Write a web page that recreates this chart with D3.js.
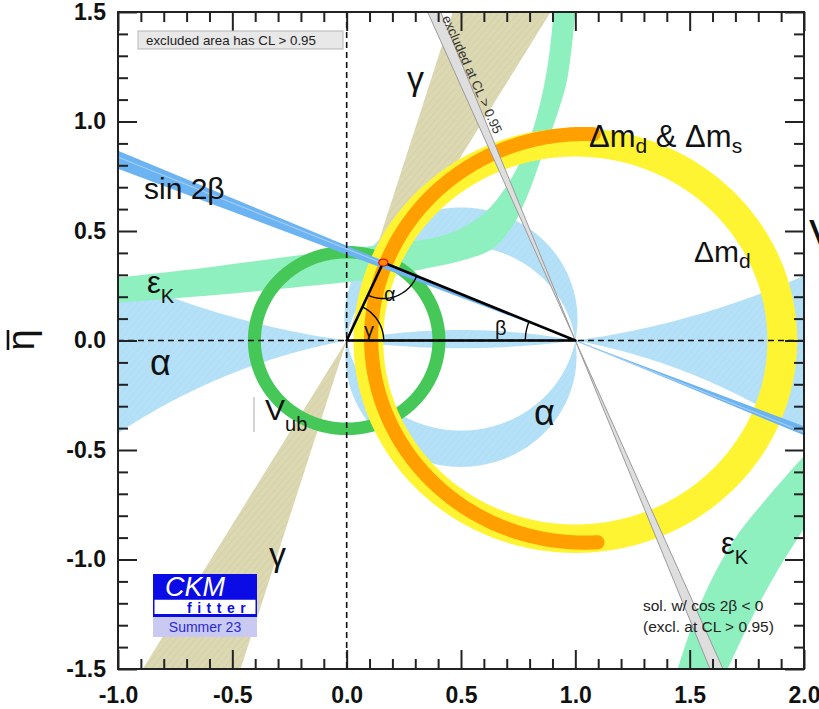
<!DOCTYPE html>
<html><head><meta charset="utf-8">
<script src="https://cdn.jsdelivr.net/npm/d3@7"></script>
<style>
html,body{margin:0;padding:0;background:#fff;}
svg{display:block;}
text{font-family:"Liberation Sans",Arial,Helvetica,sans-serif;}
</style></head><body>
<svg id="c" width="819" height="709"></svg>
<script>
// ---------------- data ----------------
const xMajor = [-1.0, -0.5, 0.0, 0.5, 1.0, 1.5, 2.0];
const xTickLabels = ["-1.0", "-0.5", "0.0", "0.5", "1.0", "1.5", "2.0"];
const yMajor = [-1.5, -1.0, -0.5, 0.0, 0.5, 1.0, 1.5];
const yTickLabels = ["-1.5", "-1.0", "-0.5", "0.0", "0.5", "1.0", "1.5"];

const apex = [0.160, 0.356];                 // fitted (rho, eta)
const vubRadii = [0.375, 0.432];             // ring about (0,0)
const dmdRadii = [0.84, 0.97];               // ring about (1,0)
const dmsCenter = [1.04, 0.01];              // Δmd & Δms arc
const dmsRadii = [0.9015, 0.9645];
const dmsAngles = [87.5, 273.5];
const gammaEdgeRho = [0.464, 0.892];         // rho where gamma band edges reach eta = 1.5
const sin2bEdgeEta = [0.784, 0.866];         // eta where sin2β band edges reach rho = -1
const exclEdgeRho = [0.354, 0.411];          // rho where cos2β<0 band edges reach eta = 1.5
const alphaWideCentres = [3.526, -2.571];    // eta of centres of circles through (0,0),(1,0)
const alphaNarrowCentres = [0.098, -0.072];
const epsUpperOuter = [[-1.05,0.282],[-0.6,0.335],[-0.2,0.39],[0.1,0.43],[0.3,0.455],[0.45,0.49],[0.6,0.58],[0.72,0.74],[0.8,0.92],[0.85,1.1],[0.885,1.3],[0.91,1.56]];
const epsUpperInner = [[-1.05,0.168],[-0.6,0.205],[-0.2,0.245],[0.1,0.28],[0.35,0.33],[0.52,0.37],[0.64,0.42],[0.73,0.53],[0.79,0.66],[0.85,0.83],[0.92,1.03],[0.966,1.2],[1.005,1.56]];
const epsLowerOuter = [[1.43,-1.56],[1.548,-1.2],[1.693,-0.912],[1.841,-0.716],[2.05,-0.47]];
const epsLowerInner = [[1.64,-1.56],[1.767,-1.277],[1.885,-1.049],[2.05,-0.78]];

// ---------------- setup ----------------
const svg = d3.select("#c");
const x = d3.scaleLinear().domain([-1, 2]).range([118, 804]);
const y = d3.scaleLinear().domain([-1.5, 1.5]).range([669, 12]);
const X0 = x(-1), X1 = x(2), Y0 = y(1.5), Y1 = y(-1.5);

const defs = svg.append("defs");
defs.append("clipPath").attr("id", "clip").append("rect")
  .attr("x", X0).attr("y", Y0).attr("width", X1 - X0).attr("height", Y1 - Y0);
function hatch(id, base, lineCol) {
  const p = defs.append("pattern").attr("id", id).attr("width", 5).attr("height", 5)
    .attr("patternUnits", "userSpaceOnUse").attr("patternTransform", "rotate(40)");
  p.append("rect").attr("width", 5).attr("height", 5).attr("fill", base);
  p.append("line").attr("x1", 0).attr("y1", 0).attr("x2", 0).attr("y2", 5)
    .attr("stroke", lineCol).attr("stroke-width", 1.2);
}
hatch("hBlue", "#b5e1f8", "#acdbf4");
hatch("hKhaki", "#dcd8b2", "#d2cda4");

const line = d3.line();
const lineC = d3.line().curve(d3.curveCatmullRom);
function circlePts(cx, cy, r, a0 = 0, a1 = 360, n = 720) {
  const pts = [];
  for (let i = 0; i <= n; i++) {
    const t = (a0 + (a1 - a0) * i / n) * Math.PI / 180;
    pts.push([x(cx + r * Math.cos(t)), y(cy + r * Math.sin(t))]);
  }
  return pts;
}
const closed = pts => line(pts) + "Z";
const P = d => [x(d[0]), y(d[1])];

const plot = svg.append("g").attr("clip-path", "url(#clip)");

// ---- alpha (light blue) ----
const rectPath = `M${X0},${Y0}H${X1}V${Y1}H${X0}Z`;
const wide = alphaWideCentres.map(c => closed(circlePts(0.5, c, Math.hypot(0.5, c)))).join("");
plot.append("path").attr("d", rectPath + wide).attr("fill", "url(#hBlue)").attr("fill-rule", "evenodd");
const narrow = alphaNarrowCentres.map(c => closed(circlePts(0.5, c, Math.hypot(0.5, c)))).join("");
plot.append("path").attr("d", narrow).attr("fill", "url(#hBlue)").attr("fill-rule", "evenodd");

// ---- gamma (khaki) ----
const gk = 1.1;
plot.append("path").attr("d", closed([
  P([gammaEdgeRho[0] * gk, 1.5 * gk]), P([-gammaEdgeRho[0] * gk, -1.5 * gk]),
  P([-gammaEdgeRho[1] * gk, -1.5 * gk]), P([gammaEdgeRho[1] * gk, 1.5 * gk])
])).attr("fill", "url(#hKhaki)");

// ---- epsilon K (mint) ----
function band(a, b) {
  const pa = lineC(a.map(P));
  const pb = lineC(b.slice().reverse().map(P));
  return pa + "L" + pb.substring(1) + "Z";
}
plot.append("path").attr("d", band(epsUpperOuter, epsUpperInner)).attr("fill", "#8ff0bf");
plot.append("path").attr("d", band(epsLowerOuter, epsLowerInner)).attr("fill", "#8ff0bf");

// ---- |Vub| (green ring) ----
plot.append("path").attr("d", vubRadii.map(r => closed(circlePts(0, 0, r))).join(""))
  .attr("fill", "#46c858").attr("fill-rule", "evenodd");

// ---- Δmd (yellow ring) ----
plot.append("path").attr("d", dmdRadii.map(r => closed(circlePts(1, 0, r))).join(""))
  .attr("fill", "#fff432").attr("fill-rule", "evenodd");

// ---- Δmd & Δms (orange arc) ----
const rMid = (dmsRadii[0] + dmsRadii[1]) / 2;
const wPx = (dmsRadii[1] - dmsRadii[0]) * (x(1) - x(0) + y(0) - y(1)) / 2;
plot.append("path").attr("d", line(circlePts(dmsCenter[0], dmsCenter[1], rMid, dmsAngles[0], dmsAngles[1], 300)))
  .attr("fill", "none").attr("stroke", "#ff9f00").attr("stroke-width", wPx).attr("stroke-linecap", "round");

// ---- sin 2β (blue wedge from (1,0)) ----
plot.append("path").attr("d", closed([
  P([-1.05, sin2bEdgeEta[1] * 1.025]), P([3.05, -sin2bEdgeEta[1] * 1.025]),
  P([3.05, -sin2bEdgeEta[0] * 1.025]), P([-1.05, sin2bEdgeEta[0] * 1.025])
])).attr("fill", "#6cb3f2");
const midEta = sin2bEdgeEta[0] * 0.35 + sin2bEdgeEta[1] * 0.65;
plot.append("path").attr("d", line([P([-1.05, midEta * 1.025]), P([3.05, -midEta * 1.025])]))
  .attr("stroke", "#9fcdf6").attr("stroke-width", 1.2);

// ---- cos 2β < 0 excluded band (grey wedge from (1,0)) ----
const exA = P([exclEdgeRho[0], 1.5]), exB = P([2 - exclEdgeRho[0], -1.5]);
plot.append("path").attr("d", closed([
  P([exclEdgeRho[0], 1.5]), P([2 - exclEdgeRho[0], -1.5]),
  P([2 - exclEdgeRho[1], -1.5]), P([exclEdgeRho[1], 1.5])
])).attr("fill", "#dedede").attr("stroke", "#9a9a9a").attr("stroke-width", 1);

// ---- dashed axes ----
plot.append("line").attr("x1", x(0)).attr("x2", x(0)).attr("y1", Y0).attr("y2", Y1)
  .attr("stroke", "#111").attr("stroke-width", 1.6).attr("stroke-dasharray", "6,4");
plot.append("line").attr("x1", X0).attr("x2", X1).attr("y1", y(0)).attr("y2", y(0))
  .attr("stroke", "#111").attr("stroke-width", 1.6).attr("stroke-dasharray", "6,4");

// ---- unitarity triangle ----
const O = P([0, 0]), R = P([1, 0]), A = P(apex);
plot.append("path").attr("d", closed([O, R, A])).attr("fill", "none")
  .attr("stroke", "#000").attr("stroke-width", 2.6).attr("stroke-linejoin", "round");
function arcPx(c, r, a0, a1) {
  const pts = [];
  for (let i = 0; i <= 60; i++) {
    const t = a0 + (a1 - a0) * i / 60;
    pts.push([c[0] + r * Math.cos(t), c[1] + r * Math.sin(t)]);
  }
  return line(pts);
}
const ang = (p, q) => Math.atan2(q[1] - p[1], q[0] - p[0]);
plot.append("path").attr("d", arcPx(O, 37, ang(O, A), 0)).attr("fill", "none").attr("stroke", "#000").attr("stroke-width", 1.4);
plot.append("path").attr("d", arcPx(A, 36, ang(A, R), ang(A, O))).attr("fill", "none").attr("stroke", "#000").attr("stroke-width", 1.4);
plot.append("path").attr("d", arcPx(R, 50, Math.PI, ang(R, A) + 2 * Math.PI)).attr("fill", "none").attr("stroke", "#000").attr("stroke-width", 1.4);
plot.append("ellipse").attr("cx", A[0]).attr("cy", A[1]).attr("rx", 4.5).attr("ry", 3.5)
  .attr("fill", "#ff8a00").attr("stroke", "#e01010").attr("stroke-width", 1.3);

// ---------------- axes ----------------
svg.append("rect").attr("x", X0).attr("y", Y0).attr("width", X1 - X0).attr("height", Y1 - Y0)
  .attr("fill", "none").attr("stroke", "#222").attr("stroke-width", 2);
const xMinor = d3.range(-10, 21).map(i => i / 10).filter(v => Math.abs(v * 2 - Math.round(v * 2)) > 1e-6);
const yMinor = d3.range(-15, 16).map(i => i / 10).filter(v => Math.abs(v * 2 - Math.round(v * 2)) > 1e-6);
function styleAxis(g) {
  g.select(".domain").remove();
  g.selectAll(".tick line").attr("stroke", "#222").attr("stroke-width", 2);
  g.selectAll(".tick text").attr("fill", "#111").attr("font-size", 23).attr("font-weight", "bold")
    .attr("font-family", "'Liberation Sans',Arial,sans-serif");
}
svg.append("g").attr("transform", `translate(0,${Y1})`)
  .call(d3.axisBottom(x).tickValues(xMajor).tickFormat(d => xTickLabels[xMajor.indexOf(d)]).tickSize(-19).tickSizeOuter(0).tickPadding(18)).call(styleAxis);
svg.append("g").attr("transform", `translate(0,${Y1})`)
  .call(d3.axisBottom(x).tickValues(xMinor).tickFormat("").tickSize(-10).tickSizeOuter(0)).call(styleAxis);
svg.append("g").attr("transform", `translate(0,${Y0})`)
  .call(d3.axisTop(x).tickValues(xMajor).tickFormat("").tickSize(-19).tickSizeOuter(0)).call(styleAxis);
svg.append("g").attr("transform", `translate(0,${Y0})`)
  .call(d3.axisTop(x).tickValues(xMinor).tickFormat("").tickSize(-10).tickSizeOuter(0)).call(styleAxis);
svg.append("g").attr("transform", `translate(${X0},0)`)
  .call(d3.axisLeft(y).tickValues(yMajor).tickFormat(d => yTickLabels[yMajor.indexOf(d)]).tickSize(-19).tickSizeOuter(0).tickPadding(12)).call(styleAxis);
svg.append("g").attr("transform", `translate(${X0},0)`)
  .call(d3.axisLeft(y).tickValues(yMinor).tickFormat("").tickSize(-10).tickSizeOuter(0)).call(styleAxis);
svg.append("g").attr("transform", `translate(${X1},0)`)
  .call(d3.axisRight(y).tickValues(yMajor).tickFormat("").tickSize(-19).tickSizeOuter(0)).call(styleAxis);
svg.append("g").attr("transform", `translate(${X1},0)`)
  .call(d3.axisRight(y).tickValues(yMinor).tickFormat("").tickSize(-10).tickSizeOuter(0)).call(styleAxis);

// y title (eta bar)
const yt = svg.append("g").attr("transform", "translate(34,340) rotate(-90)");
yt.append("text").attr("text-anchor", "middle").attr("font-size", 38).attr("fill", "#111")
  .attr("font-family", "'DejaVu Sans',sans-serif").text("η");
yt.append("line").attr("x1", -10).attr("x2", 10).attr("y1", -26).attr("y2", -26).attr("stroke", "#111").attr("stroke-width", 2.6);

// ---------------- labels ----------------
const T = svg.append("g").attr("fill", "#111");
function lab(xp, yp, s, size, fam) {
  return T.append("text").attr("x", xp).attr("y", yp).attr("font-size", size)
    .attr("font-family", fam || "'Liberation Sans',Arial,sans-serif").text(s);
}
const serif = "'Liberation Serif','DejaVu Serif',serif";
lab(144, 199, "sin 2β", 30);
lab(407, 90, "γ", 34, serif);
lab(269, 566, "γ", 34, serif);
lab(150, 375, "α", 36, serif);
lab(534, 425, "α", 36, serif);
function subLab(xp, yp, main, sub, size, subSize, fam, dy) {
  const t = T.append("text").attr("x", xp).attr("y", yp).attr("font-size", size)
    .attr("font-family", fam || "'Liberation Sans',Arial,sans-serif");
  t.append("tspan").text(main);
  t.append("tspan").attr("font-size", subSize).attr("dy", dy).attr("font-family", "'Liberation Sans',Arial,sans-serif").text(sub);
  return t;
}
subLab(147, 293, "ε", "K", 31, 20, serif, 10);
subLab(721, 554, "ε", "K", 31, 20, serif, 10);
subLab(265, 420, "V", "ub", 30, 20, null, 11);
// Δm labels
const dl = T.append("text").attr("x", 589).attr("y", 147).attr("font-size", 31);
dl.append("tspan").text("Δm");
dl.append("tspan").attr("font-size", 21).attr("dy", 6).text("d");
dl.append("tspan").attr("dy", -6).text(" & Δm");
dl.append("tspan").attr("font-size", 21).attr("dy", 6).text("s");
subLab(694, 262, "Δm", "d", 30, 21, null, 6);
// triangle angle labels
lab(384, 301, "α", 20, serif);
lab(364, 337, "γ", 20, serif);
lab(495, 335, "β", 20, serif);

// V_ub marker line
svg.append("line").attr("x1", 254).attr("x2", 254).attr("y1", 397).attr("y2", 432).attr("stroke", "#aaa").attr("stroke-width", 1);

// excluded-area box
svg.append("rect").attr("x", 138).attr("y", 31).attr("width", 205).attr("height", 18)
  .attr("fill", "#e8e8e8").attr("stroke", "#b5b5b5").attr("stroke-width", 1);
svg.append("text").attr("x", 146).attr("y", 45).attr("font-size", 13.3).attr("fill", "#222").text("excluded area has CL > 0.95");

// rotated grey band text
const rotA = Math.atan2(exB[1] - exA[1], exB[0] - exA[0]) * 180 / Math.PI;
svg.append("text").attr("transform", `translate(446,16) rotate(${rotA})`).attr("dy", "0.35em")
  .attr("font-size", 13.2).attr("fill", "#333").text("excluded at CL > 0.95");

// cos2β note
svg.append("text").attr("x", 643).attr("y", 611).attr("font-size", 15.5).attr("fill", "#222").text("sol. w/ cos 2β < 0");
svg.append("text").attr("x", 643).attr("y", 632).attr("font-size", 15.5).attr("fill", "#222").text("(excl. at CL > 0.95)");

// CKMfitter logo
const lg = svg.append("g").attr("transform", "translate(153,574)");
lg.append("rect").attr("width", 104).attr("height", 25).attr("fill", "#0b0be6");
lg.append("text").attr("x", 12).attr("y", 22).attr("font-size", 27).attr("font-style", "italic").attr("fill", "#fff").text("CKM");
lg.append("rect").attr("x", 0.75).attr("y", 25).attr("width", 102.5).attr("height", 16).attr("fill", "#fff").attr("stroke", "#0b0be6").attr("stroke-width", 1.5);
lg.append("rect").attr("x", 0).attr("y", 40).attr("width", 104).attr("height", 3).attr("fill", "#0b0be6");
lg.append("text").attr("x", 34).attr("y", 39).attr("font-size", 14).attr("font-weight", "bold").attr("letter-spacing", 5.5).attr("fill", "#0b0be6").text("fitter");
lg.append("rect").attr("x", 0).attr("y", 43).attr("width", 104).attr("height", 20).attr("fill", "#c9c9f2");
lg.append("text").attr("x", 52).attr("y", 58).attr("text-anchor", "middle").attr("font-size", 14).attr("fill", "#2a2ad0").text("Summer 23");

// clipped label at right edge
svg.append("text").attr("x", 809).attr("y", 251).attr("font-size", 44).attr("fill", "#111").text("V");
</script></body></html>
